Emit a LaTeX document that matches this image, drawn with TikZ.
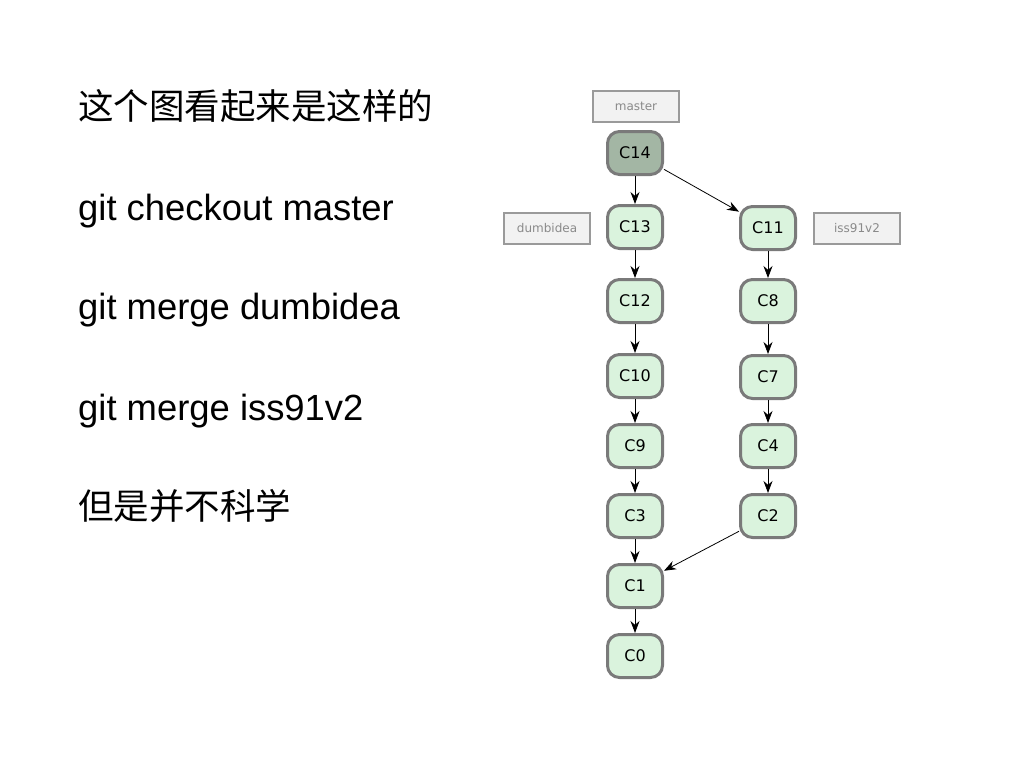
\documentclass[tikz,border=0pt]{standalone}
\usepackage{fontspec}
\setmainfont{Liberation Sans}
\newfontfamily\cjk{Noto Sans CJK SC}
\newfontfamily\lblfont{DejaVu Sans}
\usetikzlibrary{arrows.meta}
\definecolor{commitfill}{HTML}{DAF3DD}
\definecolor{headfill}{HTML}{A3B6A4}
\definecolor{commitline}{HTML}{7A7A7A}
\definecolor{reffill}{HTML}{F2F2F2}
\definecolor{refline}{HTML}{9A9A9A}
\definecolor{reftext}{HTML}{8A8A8A}
\begin{document}
\begin{tikzpicture}[x=1pt,y=-1pt,
  commit/.style={draw=commitline, line width=3pt, fill=commitfill, rounded corners=12pt,
    minimum width=55pt, minimum height=43pt, inner sep=0pt,
    font=\lblfont\fontsize{16}{18}\selectfont},
  head/.style={commit, fill=headfill},
  refbox/.style={draw=refline, line width=2pt, fill=reffill, minimum width=86pt,
    minimum height=31pt, inner sep=0pt, text=reftext,
    font=\lblfont\fontsize{12}{14}\selectfont},
  edge/.style={-{Stealth[length=12pt,width=9pt]}, line width=0.8pt, black},
  bigtext/.style={anchor=base west, inner sep=0pt, font=\fontsize{36.4}{40}\selectfont},
  cjktext/.style={anchor=base west, inner sep=0pt, font=\cjk\fontsize{35.5}{40}\selectfont}]
\useasboundingbox[fill=white] (0,0) rectangle (1024,768);

\node[cjktext] (t1) at (78,119) {这个图看起来是这样的};
\node[bigtext] (t2) at (78,220) {git checkout master};
\node[bigtext] (t3) at (78,319) {git merge dumbidea};
\node[bigtext] (t4) at (78,420) {git merge iss91v2};
\node[cjktext] (t5) at (78,519) {但是并不科学};

\node[refbox] (master) at (636,106) {master};
\node[refbox] (dumbidea) at (547,228) {dumbidea};
\node[refbox] (iss) at (857,228) {iss91v2};

\node[head] (c14) at (635,153) {C14};
\node[commit] (c13) at (635,227) {C13};
\node[commit] (c12) at (635,301) {C12};
\node[commit] (c10) at (635,376) {C10};
\node[commit] (c9) at (635,446) {C9};
\node[commit] (c3) at (635,516) {C3};
\node[commit] (c1) at (635,586) {C1};
\node[commit] (c0) at (635,656) {C0};
\node[commit] (c11) at (768,228) {C11};
\node[commit] (c8) at (768,301) {C8};
\node[commit] (c7) at (768,377) {C7};
\node[commit] (c4) at (768,446) {C4};
\node[commit] (c2) at (768,516) {C2};

\draw[edge] (c14) -- (c13);
\draw[edge] (c13) -- (c12);
\draw[edge] (c12) -- (c10);
\draw[edge] (c10) -- (c9);
\draw[edge] (c9) -- (c3);
\draw[edge] (c3) -- (c1);
\draw[edge] (c1) -- (c0);
\draw[edge] (c14) -- (c11);
\draw[edge] (c11) -- (c8);
\draw[edge] (c8) -- (c7);
\draw[edge] (c7) -- (c4);
\draw[edge] (c4) -- (c2);
\draw[edge] (c2) -- (c1);
\end{tikzpicture}
\end{document}
